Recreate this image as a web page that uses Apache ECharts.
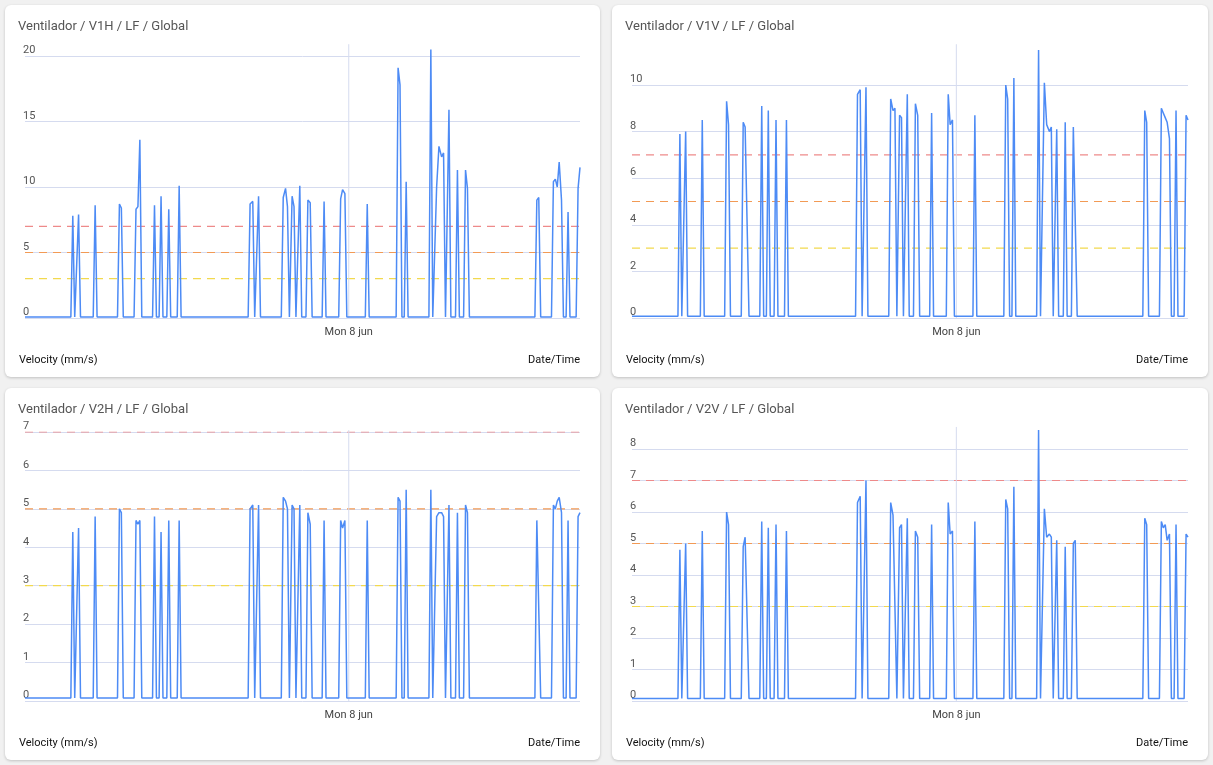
<!DOCTYPE html>
<html>
<head>
<meta charset="utf-8">
<script src="https://cdn.jsdelivr.net/npm/echarts@6/dist/echarts.min.js"></script>
<style>
  body { margin: 0; background: #f1f1f1; font-family: Roboto, sans-serif; }
  .card { position: absolute; width: 595px; height: 372px; background: #fff; border-radius: 6px;
          box-shadow: 0 1px 3px rgba(0,0,0,0.2); }
</style>
</head>
<body>
<div class="card" id="c1" style="left:5px;top:5px"></div>
<div class="card" id="c2" style="left:612px;top:5px;width:596px"></div>
<div class="card" id="c3" style="left:5px;top:388px"></div>
<div class="card" id="c4" style="left:612px;top:388px;width:596px"></div>
<script>
// minutes from window start (24h window, Mon 8 jun 00:00 at minute 840)
var midnight = 840;
var bursts = [[124],[139],[182],[245,250],[288,293,298],[336],[353],[373],[400],[584,591],[606],
  [670,676,681],[693,698],[713],[734,740],[776],[819,824,830],[888],[968,973],[989],[1053],
  [1068,1074,1081,1086],[1100],[1122],[1143,1148],[1328,1333],[1371,1376,1381,1386,1392],[1409],[1435,1440]];

var v1h = [7.8,7.9,8.6,8.7,8.4,8.3,8.5,13.6,8.6,9.3,8.3,10.1,8.7,8.9,9.3,9.2,9.9,8.5,9.3,8.5,10.1,9.0,8.8,8.9,
  9.1,9.8,9.5,8.7,19.1,17.8,10.4,20.5,10,13.1,12.3,12.6,15.9,11.3,11.3,9.9,9.0,9.2,10.4,10.6,10.0,11.9,9.0,8.1,9.9,11.5];
var v1v = [7.9,8.0,8.5,9.3,8.3,8.4,8.2,8.2,9.1,8.9,8.5,8.5,9.6,9.8,9.9,9.4,8.9,9.0,8.7,8.6,9.6,9.2,8.7,8.8,
  9.6,8.3,8.5,8.7,10.0,9.4,10.3,11.5,10.1,8.3,8.0,8.2,8.1,8.4,8.2,8.2,8.9,8.4,9.0,8.8,8.6,8.4,7.7,8.9,8.7,8.5];
var v2h = [4.4,4.5,4.8,5.0,4.9,4.7,4.6,4.7,4.8,4.4,4.7,4.7,5.0,5.1,5.1,5.3,5.2,5.0,5.1,5.0,5.1,4.9,4.6,4.7,
  4.7,4.5,4.7,4.7,5.3,5.2,5.5,5.5,4.8,4.9,4.9,4.8,5.1,4.9,5.1,4.9,4.7,4.7,5.1,5.0,5.2,5.3,4.9,4.7,4.8,4.9];
var v2v = [4.8,5.0,5.4,6.0,5.6,4.9,5.2,5.2,5.7,5.5,5.6,5.4,6.3,6.5,7.0,6.3,5.9,5.9,5.5,5.6,5.8,5.4,5.2,5.6,
  6.3,5.3,5.4,5.7,6.4,6.1,6.8,8.6,6.1,5.2,5.3,5.2,5.1,4.9,5.0,5.1,5.8,5.6,5.7,5.5,5.6,5.1,5.3,5.6,5.3,5.2];

var thresholds = [7, 5, 3];
var thresholdColors = ['#ee8a8a', '#f29a55', '#f2d94e'];

function buildSeries(vals, base) {
  var out = [[0, base]], k = 0;
  bursts.forEach(function (g) {
    out.push([g[0] - 5, base]);
    g.forEach(function (t) { out.push([t, vals[k++]]); });
    if (g[g.length - 1] + 5 <= 1440) out.push([g[g.length - 1] + 5, base]);
  });
  if (out[out.length - 1][0] < 1440) out.push([1440, base]);
  return out;
}

function make(id, title, vals, ymax, interval, topPx, ytop) {
  var chart = echarts.init(document.getElementById(id));
  var series = thresholds.map(function (y, i) {
    return { type: 'line', data: [[0, y], [1440, y]], showSymbol: false, silent: true, z: 1,
      lineStyle: { color: thresholdColors[i], type: [8, 6], width: 1.2 } };
  });
  series.push({ type: 'line', data: [[midnight, 0], [midnight, ytop]], showSymbol: false, silent: true,
    clip: false, z: 1, lineStyle: { color: '#d5dbef', width: 1 } });
  series.push({
    type: 'line', data: buildSeries(vals, 0.08), showSymbol: false, clip: false, z: 3,
    lineStyle: { color: '#4d8bf5', width: 1.5 }
  });
  chart.setOption({
    animation: false,
    textStyle: { fontFamily: 'Roboto' },
    title: { text: title, left: 8, top: 10, textStyle: { fontSize: 13, fontWeight: 'normal', color: '#555' } },
    grid: { left: 20, right: 20, top: topPx, bottom: 59 },
    graphic: [
      { type: 'text', left: 14, bottom: 11, style: { text: 'Velocity (mm/s)', fontSize: 11, fill: '#111', fontFamily: 'Roboto' } },
      { type: 'text', right: 20, bottom: 11, style: { text: 'Date/Time', fontSize: 11, fill: '#111', fontFamily: 'Roboto' } }
    ],
    xAxis: {
      type: 'value', min: 0, max: 1440, interval: 60,
      axisLine: { show: false }, axisTick: { show: false }, splitLine: { show: false },
      axisLabel: { margin: 9, color: '#444', fontSize: 11, showMinLabel: false, showMaxLabel: false,
        formatter: function (v) { return v === midnight ? 'Mon 8 jun' : ''; } }
    },
    yAxis: {
      type: 'value', min: 0, max: ymax, interval: interval,
      axisLine: { show: false }, axisTick: { show: false },
      splitLine: { lineStyle: { color: '#d5dbef' } },
      axisLabel: { inside: true, margin: -2, verticalAlign: 'bottom', color: '#555', fontSize: 11 }
    },
    series: series
  });
}

make('c1', 'Ventilador / V1H / LF / Global', v1h, 20, 5, 51, 20.9);
make('c2', 'Ventilador / V1V / LF / Global', v1v, 10, 2, 80, 11.75);
make('c3', 'Ventilador / V2H / LF / Global', v2h, 7, 1, 44, 7.05);
make('c4', 'Ventilador / V2V / LF / Global', v2v, 8, 1, 61, 8.7);
</script>
</body>
</html>
